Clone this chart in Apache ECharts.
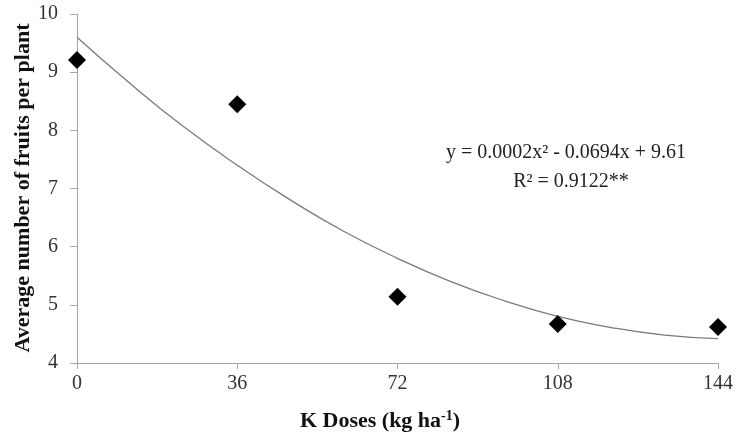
<!DOCTYPE html>
<html><head><meta charset="utf-8">
<script src="https://cdn.jsdelivr.net/npm/echarts@6/dist/echarts.min.js"></script>
<style>html,body{margin:0;padding:0;background:#fff}#c{width:736px;height:434px}</style>
</head><body><div id="c"></div>
<script>
var doses = [0, 36, 72, 108, 144];
var fruits = [9.21, 8.45, 5.14, 4.67, 4.62];
var trendX = [0, 12, 24, 36, 48, 60, 72, 84, 96, 108, 120, 132, 144];
var trendY = [9.60, 8.80, 8.06, 7.40, 6.80, 6.26, 5.80, 5.40, 5.07, 4.80, 4.61, 4.48, 4.42];
var xTicks = [0, 36, 72, 108, 144];
var equationText = 'y = 0.0002x² - 0.0694x + 9.61';
var r2Text = 'R² = 0.9122**';

var chart = echarts.init(document.getElementById('c'));
var serif = '"Liberation Serif", "DejaVu Serif", serif';
chart.setOption({
  animation: false,
  grid: {left: 77, right: 18, top: 14, bottom: 71},
  xAxis: {
    type: 'value', min: 0, max: 144, interval: 36,
    axisLine: {lineStyle: {color: '#a6a6a6', width: 1}},
    axisTick: {show: true, length: 6, lineStyle: {color: '#a6a6a6'}},
    splitLine: {show: false},
    axisLabel: {color: '#333', fontFamily: serif, fontSize: 20, margin: 11,
      formatter: function (v) { return xTicks.indexOf(v) >= 0 ? String(v) : ''; }}
  },
  yAxis: {
    type: 'value', min: 4, max: 10, interval: 1,
    axisLine: {show: true, lineStyle: {color: '#a6a6a6', width: 1}},
    axisTick: {show: true, length: 7, lineStyle: {color: '#a6a6a6'}},
    splitLine: {show: false},
    axisLabel: {color: '#333', fontFamily: serif, fontSize: 20, margin: 19}
  },
  series: [
    {type: 'line', data: trendX.map(function (x, i) { return [x, trendY[i]]; }),
     smooth: true, showSymbol: false, lineStyle: {color: '#7a7a7a', width: 1.3}, z: 1},
    {type: 'scatter', data: doses.map(function (x, i) { return [x, fruits[i]]; }),
     symbol: 'diamond', symbolSize: [18, 18], itemStyle: {color: '#000', opacity: 1}, z: 3}
  ],
  graphic: [
    {type: 'text', x: 566, y: 153, style: {text: equationText, font: '20px ' + serif, fill: '#222', align: 'center', verticalAlign: 'middle'}},
    {type: 'text', x: 571, y: 182, style: {text: r2Text, font: '20px ' + serif, fill: '#222', align: 'center', verticalAlign: 'middle'}},
    {type: 'text', x: 23, y: 188, rotation: Math.PI / 2,
     style: {text: 'Average number of fruits per plant', font: 'bold 22px ' + serif, fill: '#111', align: 'center', verticalAlign: 'middle'}},
    {type: 'text', x: 380, y: 421,
     style: {text: '{a|K Doses (kg ha}{s|-1}{a|)}', align: 'center', verticalAlign: 'middle',
       rich: {a: {font: 'bold 22px ' + serif, fill: '#111'}, s: {font: 'bold 14px ' + serif, fill: '#111', verticalAlign: 'top', padding: [0,0,9,0]}}}}
  ]
});
</script></body></html>
